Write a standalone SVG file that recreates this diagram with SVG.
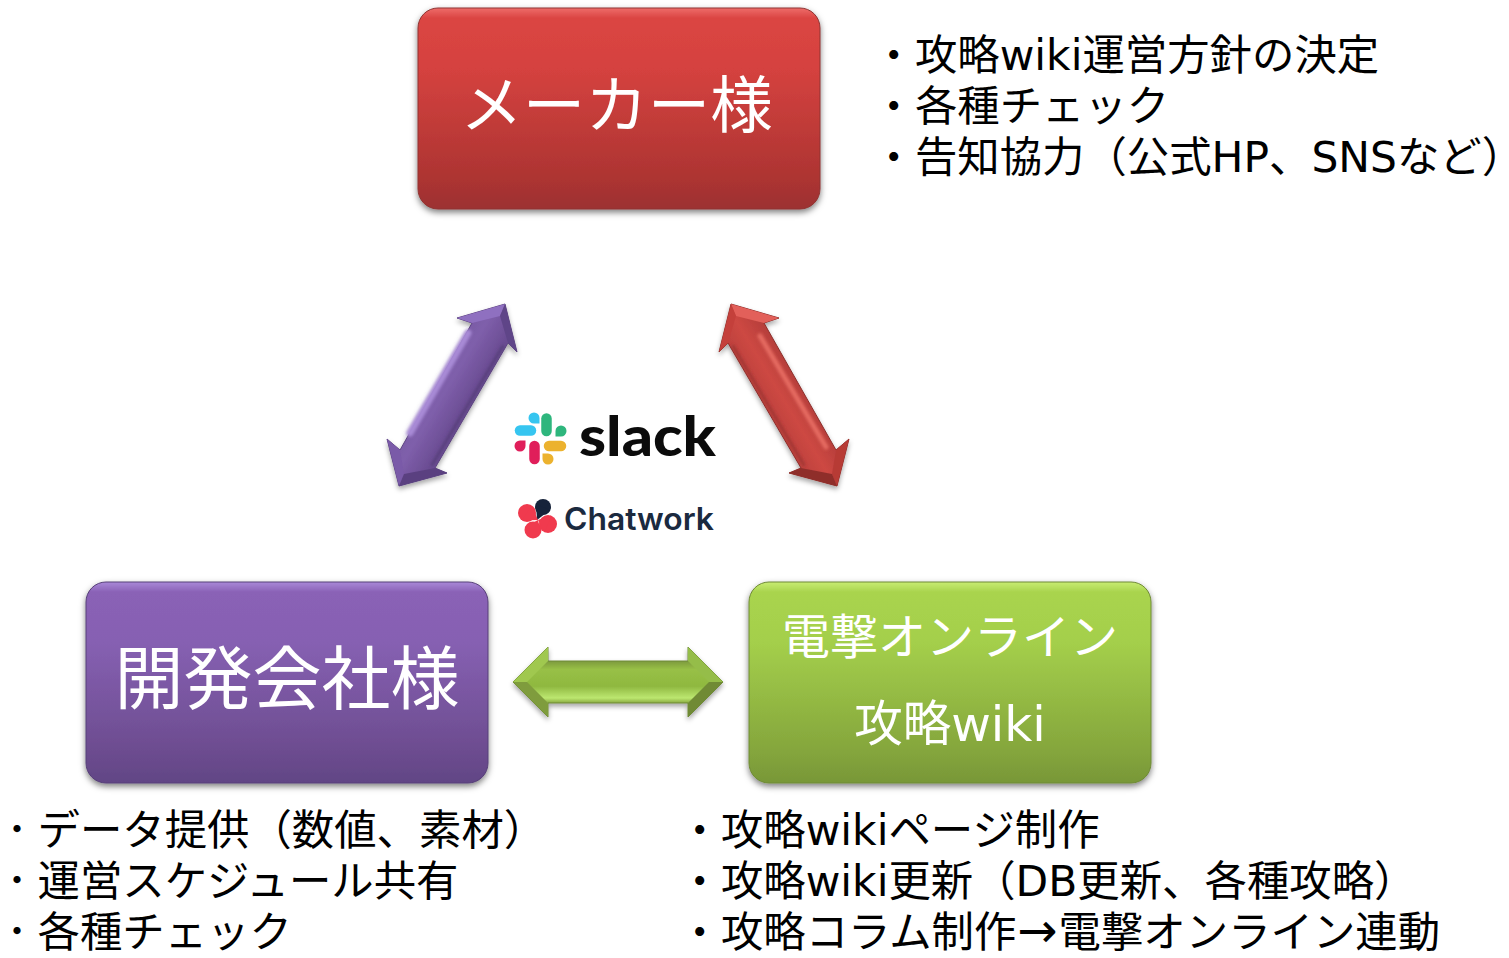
<svg xmlns="http://www.w3.org/2000/svg" width="1509" height="958" viewBox="0 0 1509 958">
<style>
text{font-family:"DejaVu Sans","Noto Sans CJK JP",sans-serif}
.t{font-size:42.4px;fill:#000}
.w{fill:#fff;text-anchor:middle}
.hl{fill:none;stroke-linecap:round}
.d{font-size:34px}
</style>
<defs>
<linearGradient id="gr" x1="0" y1="0" x2="0" y2="1"><stop offset="0" stop-color="#ee6c6a"/><stop offset=".05" stop-color="#db4543"/><stop offset=".3" stop-color="#d5423f"/><stop offset=".85" stop-color="#ad3432"/><stop offset="1" stop-color="#9c3130"/></linearGradient>
<linearGradient id="gp" x1="0" y1="0" x2="0" y2="1"><stop offset="0" stop-color="#a988d8"/><stop offset=".05" stop-color="#8a62b6"/><stop offset=".3" stop-color="#8660b2"/><stop offset=".85" stop-color="#6c4c8f"/><stop offset="1" stop-color="#614585"/></linearGradient>
<linearGradient id="gg" x1="0" y1="0" x2="0" y2="1"><stop offset="0" stop-color="#c8ec72"/><stop offset=".05" stop-color="#a9d44e"/><stop offset=".3" stop-color="#a4cf4b"/><stop offset=".85" stop-color="#84a53c"/><stop offset="1" stop-color="#789738"/></linearGradient>
<linearGradient id="ap" gradientUnits="userSpaceOnUse" x1="430" y1="365" x2="475" y2="392"><stop offset="0" stop-color="#7558a0"/><stop offset=".5" stop-color="#7f5fab"/><stop offset="1" stop-color="#6a4c92"/></linearGradient>
<linearGradient id="ar" gradientUnits="userSpaceOnUse" x1="755" y1="420" x2="805" y2="390"><stop offset="0" stop-color="#b13c38"/><stop offset=".6" stop-color="#cd4843"/><stop offset="1" stop-color="#b53e3a"/></linearGradient>
<linearGradient id="ag" gradientUnits="userSpaceOnUse" x1="0" y1="661" x2="0" y2="703"><stop offset="0" stop-color="#7d9a3e"/><stop offset=".2" stop-color="#98c046"/><stop offset=".6" stop-color="#8fb840"/><stop offset=".88" stop-color="#bce770"/><stop offset="1" stop-color="#89aa42"/></linearGradient>
<filter id="sh" x="-10%" y="-10%" width="120%" height="125%"><feDropShadow dx="0" dy="3" stdDeviation="3" flood-color="#000" flood-opacity=".5"/></filter>
<filter id="sa" x="-20%" y="-20%" width="140%" height="140%"><feDropShadow dx="0" dy="3" stdDeviation="2.5" flood-color="#000" flood-opacity=".35"/></filter>
<filter id="b" x="-30%" y="-30%" width="160%" height="160%"><feGaussianBlur stdDeviation="1.6"/></filter>
</defs>

<g id="connectors">
<g id="arrow-purple" filter="url(#sa)">
<polygon points="505,304 517,352 508,343 435,468 447,473 399,486 387,439 400,450 472,323 457,318" fill="url(#ap)" stroke="#5c4480" stroke-width="1"/>
<path class="hl" d="M468 333L410 433" stroke="#a88ad6" stroke-width="7" filter="url(#b)"/>
<path class="hl" d="M503 346L432 465" stroke="#553d78" stroke-width="2.5" filter="url(#b)"/>
<polygon points="505,304 457,318 472,323 500,316" fill="#8f6fc0"/>
<polygon points="505,304 517,352 508,343 500,316" fill="#5f4588"/>
<polygon points="399,486 387,439 400,450 404,474" fill="#7a5aa8"/>
<polygon points="399,486 447,473 435,468 404,474" fill="#5a4180"/>
</g>
<g id="arrow-red" filter="url(#sa)">
<polygon points="731,304 719,352 728,343 801,468 789,473 837,486 849,439 836,450 764,323 779,318" fill="url(#ar)" stroke="#8c2f2c" stroke-width="1"/>
<path class="hl" d="M760 336L826 447" stroke="#e56a60" stroke-width="5" filter="url(#b)"/>
<path class="hl" d="M733 346L804 465" stroke="#9c3330" stroke-width="2.5" filter="url(#b)"/>
<polygon points="731,304 779,318 764,323 736,316" fill="#e2605a"/>
<polygon points="731,304 719,352 728,343 736,316" fill="#c4403b"/>
<polygon points="837,486 849,439 836,450 832,474" fill="#b73a36"/>
<polygon points="837,486 789,473 801,468 832,474" fill="#8f2f2c"/>
</g>
<g id="arrow-green" filter="url(#sa)">
<polygon points="513,682 548,647 548,661 688,661 688,647 723,682 688,717 688,703 548,703 548,717" fill="url(#ag)" stroke="#6f8a36" stroke-width="1"/>
<polygon points="513,682 548,647 548,661 527,682" fill="#a0c850"/>
<polygon points="513,682 527,682 548,703 548,717" fill="#7f9c3c"/>
<polygon points="723,682 688,647 688,661 709,682" fill="#95bd48"/>
<polygon points="723,682 709,682 688,703 688,717" fill="#6f8a36"/>
</g>
</g>

<g id="maker">
<rect x="418" y="8" width="402" height="201" rx="20" fill="url(#gr)" stroke="#8f3533" stroke-width="1" filter="url(#sh)"/>
<text class="w" x="616.5" y="128" font-size="62.5">メーカー様</text>
</g>
<g id="developer">
<rect x="86" y="582" width="402" height="201" rx="20" fill="url(#gp)" stroke="#574078" stroke-width="1" filter="url(#sh)"/>
<text class="w" x="287" y="704" font-size="69">開発会社様</text>
</g>
<g id="wiki">
<rect x="749" y="582" width="402" height="201" rx="20" fill="url(#gg)" stroke="#6f8a36" stroke-width="1" filter="url(#sh)"/>
<text class="w" x="950" y="654" font-size="48">電撃オンライン</text>
<text class="w" x="950" y="741" font-size="48.5">攻略wiki</text>
</g>

<g id="slack">
<g fill="none" stroke-width="10.5" stroke-linecap="round">
<path d="M520 430.5H531" stroke="#36c5f0"/>
<path d="M546.5 418.5V431" stroke="#2eb67d"/>
<path d="M534.5 446V459" stroke="#e01e5a"/>
<path d="M549 446H561" stroke="#ecb22e"/>
</g>
<path d="M534 423.5h5.5v-5.5a5.5 5.5 0 1 0-5.5 5.5z" fill="#36c5f0"/>
<path d="M561 436.5h-5.5v-5.5a5.5 5.5 0 1 1 5.5 5.5z" fill="#2eb67d"/>
<path d="M520 440.5h5.5v5.5a5.5 5.5 0 1 1-5.5-5.5z" fill="#e01e5a"/>
<path d="M548 453.5h-5.5v5.5a5.5 5.5 0 1 0 5.5-5.5z" fill="#ecb22e"/>
<text x="579" y="456" font-size="56" font-weight="900" fill="#0b0b0b" textLength="137" lengthAdjust="spacingAndGlyphs" style="font-family:Lato,sans-serif">slack</text>
</g>
<g id="chatwork">
<circle cx="543" cy="507" r="8" fill="#16233a"/>
<polygon points="550,510 536,504 537,520" fill="#16233a"/>
<g fill="#f03a4e">
<circle cx="527" cy="513" r="9"/>
<polygon points="522,520.4 532,505.6 538,520"/>
<circle cx="548" cy="524" r="9"/>
<polygon points="551,515.5 545,532.5 538,520"/>
<circle cx="533" cy="530" r="8.5"/>
<polygon points="541,533 525,527 538,520"/>
</g>
<text x="564" y="530" font-size="31" font-weight="600" fill="#1b2a3f" textLength="150" lengthAdjust="spacingAndGlyphs" style="font-family:Inter,sans-serif">Chatwork</text>
</g>

<g id="notes-maker">
<text class="t" x="872.5" y="70">・攻略wiki運営方針の決定</text>
<text class="t" x="872.5" y="121">・各種チェック</text>
<text class="t" x="872.5" y="172">・告知協力（公式HP、SNSなど）</text>
</g>
<g id="notes-developer">
<text class="t" x="0" y="845"><tspan class="d" dy="-3">・</tspan><tspan x="37.5" dy="3">データ提供（数値、素材）</tspan></text>
<text class="t" x="0" y="896"><tspan class="d" dy="-3">・</tspan><tspan x="37.5" dy="3">運営スケジュール共有</tspan></text>
<text class="t" x="0" y="947"><tspan class="d" dy="-3">・</tspan><tspan x="37.5" dy="3">各種チェック</tspan></text>
</g>
<g id="notes-wiki">
<text class="t" x="678.5" y="845">・攻略wikiページ制作</text>
<text class="t" x="678.5" y="896">・攻略wiki更新（DB更新、各種攻略）</text>
<text class="t" x="678.5" y="947">・攻略コラム制作<tspan dx="1" font-size="48">→</tspan><tspan dx="1">電撃オンライン連動</tspan></text>
</g>
</svg>
